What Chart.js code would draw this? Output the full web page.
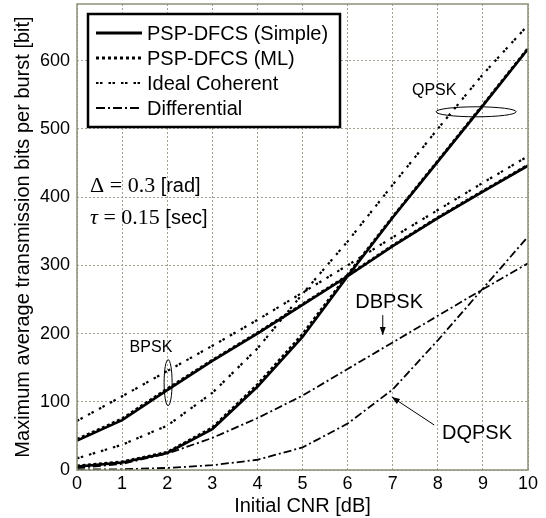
<!DOCTYPE html>
<html><head><meta charset="utf-8">
<script src="https://cdn.jsdelivr.net/npm/chart.js@4.4.1/dist/chart.umd.min.js"></script>
<style>html,body{margin:0;padding:0;background:#fff}#wrap{width:546px;height:518px}</style>
</head><body><div id="wrap"><canvas id="c" width="546" height="518"></canvas></div>
<script>
const cnr = [0,1,2,3,4,5,6,7,8,9,10];
const bpskSimple = [43, 73, 117, 160, 200, 242, 284, 328, 369, 408, 446];
const bpskML     = [45, 75, 119, 161, 201, 243, 285, 329, 370, 409, 447];
const bpskIdeal  = [72, 108, 145, 182, 220, 260, 300, 341, 381, 421, 460];
const qpskSimple = [5, 11, 25, 60, 122, 195, 284, 370, 452, 534, 617];
const qpskML     = [6, 12, 26, 62, 125, 199, 286, 371, 453, 535, 618];
const qpskIdeal  = [17, 37, 65, 113, 178, 258, 335, 418, 500, 580, 652];
const dbpsk      = [3, 9, 24, 47, 76, 109, 148, 187, 226, 265, 303];
const dqpsk      = [1, 1, 3, 7, 15, 33, 68, 118, 190, 266, 342];
const xTicks = [0,1,2,3,4,5,6,7,8,9,10];
const yTicks = [0,100,200,300,400,500,600];
const legendLabels = ['PSP-DFCS (Simple)', 'PSP-DFCS (ML)', 'Ideal Coherent', 'Differential'];
const xTitle = 'Initial CNR [dB]';
const yTitle = 'Maximum average transmission bits per burst [bit]';

const SANS = '"Liberation Sans", Arial, Helvetica, sans-serif';
const SERIF = '"Liberation Serif", "DejaVu Serif", serif';
const styles = {
  simple: {borderWidth: 2.6, borderDash: []},
  ml: {borderWidth: 2.8, borderDash: [3, 2.5]},
  ideal: {borderWidth: 2.2, borderDash: [2.5, 1.5, 2.5, 6]},
  diff: {borderWidth: 1.8, borderDash: [8, 3, 2, 3]}
};
const pts = arr => cnr.map((x, i) => ({x, y: arr[i]}));
function ds(label, arr, st) {
  return Object.assign({label, data: pts(arr), borderColor: '#000', backgroundColor: '#000',
    pointRadius: 0, tension: 0, fill: false, borderCapStyle: 'butt'}, styles[st]);
}

const frame = {
  id: 'frame',
  afterDatasetsDraw(chart) {
    const {ctx, chartArea: a, scales} = chart;
    const X = v => scales.x.getPixelForValue(v), Y = v => scales.y.getPixelForValue(v);
    ctx.save();
    ctx.strokeStyle = '#8e8e78'; ctx.lineWidth = 1.5;
    ctx.strokeRect(a.left, a.top, a.right - a.left, a.bottom - a.top);

    // legend
    const lx = 88, ly = 14, lw = 252, lh = 113;
    ctx.fillStyle = '#fff'; ctx.fillRect(lx, ly, lw, lh);
    ctx.strokeStyle = '#000'; ctx.lineWidth = 2.5; ctx.strokeRect(lx, ly, lw, lh);
    const rows = [33, 58, 83, 108];
    const lst = [{w: 3, d: []}, {w: 3, d: [3, 3]}, {w: 2.2, d: [2.5, 1.5, 2.5, 6]}, {w: 1.8, d: [9, 3, 2, 3]}];
    ctx.font = '20px ' + SANS; ctx.textBaseline = 'middle'; ctx.textAlign = 'left'; ctx.fillStyle = '#000';
    rows.forEach((ry, i) => {
      ctx.beginPath(); ctx.lineWidth = lst[i].w; ctx.setLineDash(lst[i].d); ctx.strokeStyle = '#000';
      ctx.moveTo(96, ry); ctx.lineTo(142, ry); ctx.stroke();
      ctx.setLineDash([]);
      ctx.fillText(legendLabels[i], 147, ry + 1);
    });

    // annotations
    ctx.lineWidth = 1; ctx.setLineDash([]); ctx.strokeStyle = '#000';
    ctx.font = '16px ' + SANS; ctx.textAlign = 'center';
    ctx.fillText('QPSK', X(7.92), Y(556));
    ctx.fillText('BPSK', X(1.64), Y(179));
    ctx.beginPath(); ctx.ellipse(X(8.85), Y(525), 40, 5, 0, 0, Math.PI * 2); ctx.stroke();
    ctx.beginPath(); ctx.ellipse(X(2.02), Y(128), 4, 23, 0, 0, Math.PI * 2); ctx.stroke();
    ctx.font = '20px ' + SANS;
    ctx.fillText('DBPSK', X(6.92), Y(246));
    ctx.fillText('DQPSK', X(8.87), Y(54));
    function arrow(x1, y1, x2, y2) {
      ctx.beginPath(); ctx.moveTo(x1, y1); ctx.lineTo(x2, y2); ctx.stroke();
      const ang = Math.atan2(y2 - y1, x2 - x1), L = 8, W = 3;
      ctx.beginPath(); ctx.moveTo(x2, y2);
      ctx.lineTo(x2 - L * Math.cos(ang) + W * Math.sin(ang), y2 - L * Math.sin(ang) - W * Math.cos(ang));
      ctx.lineTo(x2 - L * Math.cos(ang) - W * Math.sin(ang), y2 - L * Math.sin(ang) + W * Math.cos(ang));
      ctx.closePath(); ctx.fill();
    }
    arrow(X(6.78), Y(227), X(6.78), Y(198));
    arrow(X(7.92), Y(66), X(6.98), Y(107));

    // parameter text
    function mixed(parts, x, y) {
      ctx.textAlign = 'left';
      parts.forEach(p => { ctx.font = p[1]; ctx.fillText(p[0], x, y); x += ctx.measureText(p[0]).width; });
    }
    mixed([['\u0394 = 0.3 ', '22px ' + SERIF], ['[rad]', '20px ' + SANS]], X(0.29), Y(416));
    mixed([['\u03c4', 'italic 22px ' + SERIF], [' = 0.15 ', '22px ' + SERIF], ['[sec]', '20px ' + SANS]], X(0.29), Y(369));
    ctx.restore();
  }
};

new Chart(document.getElementById('c'), {
  type: 'line',
  data: {datasets: [
    ds('BPSK Ideal', bpskIdeal, 'ideal'),
    ds('QPSK Ideal', qpskIdeal, 'ideal'),
    ds('DBPSK', dbpsk, 'diff'),
    ds('DQPSK', dqpsk, 'diff'),
    ds('BPSK Simple', bpskSimple, 'simple'),
    ds('QPSK Simple', qpskSimple, 'simple'),
    ds('BPSK ML', bpskML, 'ml'),
    ds('QPSK ML', qpskML, 'ml')
  ]},
  options: {
    responsive: false, animation: false, devicePixelRatio: 1,
    layout: {padding: {top: 4, right: 18, left: 0, bottom: 0}},
    plugins: {legend: {display: false}, tooltip: {enabled: false}},
    scales: {
      x: {
        type: 'linear', min: 0, max: 10,
        afterBuildTicks: s => { s.ticks = xTicks.map(v => ({value: v})); },
        afterFit: s => { s.height = 48; s.paddingLeft = 0; s.paddingRight = 0; },
        grid: {color: '#a0a090', lineWidth: 1, drawTicks: false},
        border: {display: false, dash: [2, 2]},
        ticks: {color: '#000', font: {family: SANS, size: 18}, padding: 3, maxRotation: 0},
        title: {display: true, text: xTitle, color: '#000', font: {family: SANS, size: 20}, padding: {top: 0, bottom: 0}}
      },
      y: {
        type: 'linear', min: 0, max: 683,
        afterBuildTicks: s => { s.ticks = yTicks.map(v => ({value: v})); },
        afterFit: s => { s.width = 77; s.paddingTop = 0; s.paddingBottom = 0; },
        grid: {color: '#a0a090', lineWidth: 1, drawTicks: false},
        border: {display: false, dash: [2, 2]},
        ticks: {color: '#000', font: {family: SANS, size: 18}, padding: 7},
        title: {display: true, text: yTitle, color: '#000', font: {family: SANS, size: 20}, padding: {top: 11, bottom: 0}}
      }
    }
  },
  plugins: [frame]
});
</script></body></html>
